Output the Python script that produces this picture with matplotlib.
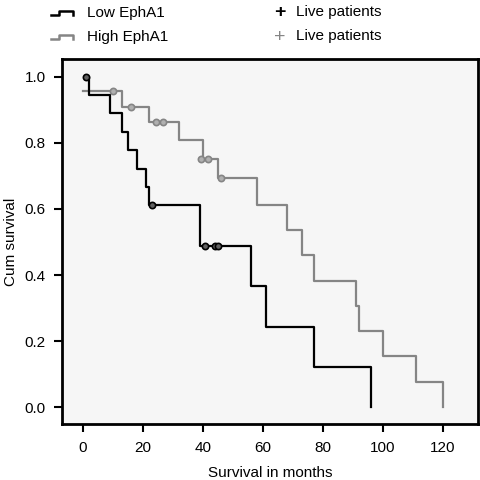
import matplotlib
matplotlib.use('Agg')
import matplotlib.pyplot as plt
from matplotlib.lines import Line2D

# Low EphA1 group (black)
low_times = [1, 2, 9, 13, 15, 18, 21, 22, 39, 56, 61, 77, 96]
low_surv = [1.0, 0.944, 0.889, 0.833, 0.778, 0.722, 0.667, 0.611, 0.489, 0.367, 0.244, 0.122, 0.0]
low_cens_t = [1, 23, 40.7, 44, 45]
low_cens_s = [1.0, 0.611, 0.489, 0.489, 0.489]

# High EphA1 group (grey)
high_times = [0, 13, 22, 32, 40, 45, 58, 68, 73, 77, 91, 92, 100, 111, 120]
high_surv = [0.955, 0.909, 0.864, 0.808, 0.752, 0.693, 0.613, 0.537, 0.46, 0.382, 0.306, 0.23, 0.155, 0.077, 0.0]
high_cens_t = [9.9, 16, 24.5, 26.8, 39.5, 41.8, 46]
high_cens_s = [0.955, 0.909, 0.864, 0.864, 0.752, 0.752, 0.693]

x_ticks = [0, 20, 40, 60, 80, 100, 120]
y_ticks = [0.0, 0.2, 0.4, 0.6, 0.8, 1.0]

GREY = '#858585'

plt.rcParams['font.family'] = ['Liberation Sans', 'DejaVu Sans']
plt.rcParams['font.size'] = 11

fig = plt.figure(figsize=(4.8, 4.8), dpi=100)
ax = fig.add_axes([0.130, 0.117, 0.866, 0.760])
ax.set_facecolor('#f6f6f6')

ax.step(high_times, high_surv, where='post', color=GREY, lw=1.6)
ax.plot(high_cens_t, high_cens_s, 'o', ms=4.5, mfc='#b0b0b0', mec=GREY, mew=1.2)
ax.step(low_times, low_surv, where='post', color='black', lw=1.6)
ax.plot(low_cens_t, low_cens_s, 'o', ms=4.5, mfc='#606060', mec='black', mew=1.2)

ax.set_xlim(-6.8, 131.7)
ax.set_ylim(-0.05, 1.053)
ax.set_xticks(x_ticks)
ax.set_yticks(y_ticks)
ax.set_yticklabels(['%.1f' % v for v in y_ticks])
ax.tick_params(direction='out', length=6, width=1.5, colors='black', labelsize=11, pad=6)
for s in ax.spines.values():
    s.set_linewidth(2)
ax.set_xlabel('Survival in months', fontsize=11, labelpad=8)
ax.set_ylabel('Cum survival', fontsize=11, labelpad=5)

# legend drawn at top of figure (pixel coords -> figure fraction)
def fx(px):
    return px / 480.0

def fy(py):
    return 1 - py / 480.0

for ypix, col, label in [(13, 'black', 'Low EphA1'), (37, GREY, 'High EphA1')]:
    xs = [51, 59, 59, 73, 73]
    ys = [ypix + 2, ypix + 2, ypix - 2, ypix - 2, ypix + 2]
    fig.add_artist(Line2D([fx(v) for v in xs], [fy(v) for v in ys], color=col, lw=1.8))
    fig.text(fx(87), fy(ypix), label, va='center', ha='left', fontsize=11)
    fig.text(fx(280), fy(ypix), '+', va='center', ha='center', fontsize=14, color=col,
             fontweight='bold' if col == 'black' else 'normal')
    fig.text(fx(296), fy(ypix - 1), 'Live patients', va='center', ha='left', fontsize=11)

fig.savefig('out.png', dpi=100)
